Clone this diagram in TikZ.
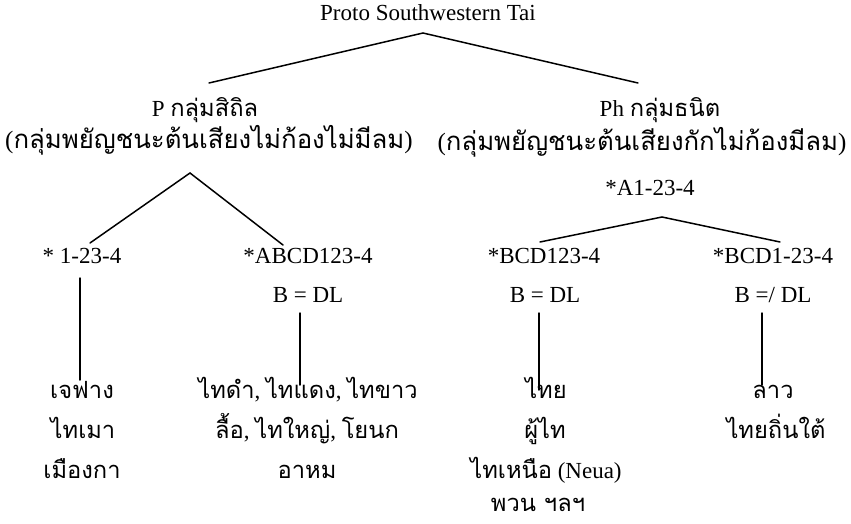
\documentclass[tikz,border=0pt]{standalone}
\usepackage{fontspec}
\setmainfont{Liberation Serif}
\newfontfamily\thaif[Script=Thai,Scale=1.03]{Loma}
\begin{document}
\begin{tikzpicture}[x=1pt,y=-1pt,
  lbl/.style={inner sep=0pt, anchor=base, font=\fontsize{23}{27}\selectfont},
  wide/.style={lbl, font=\fontsize{25}{29}\selectfont},
  branch/.style={line width=1.5pt, line cap=round}]
\useasboundingbox (0,0) rectangle (851,524);
% texts
\node[lbl] (root) at (428,21) {Proto Southwestern Tai};
\node[lbl] (pA) at (205,117) {P {\thaif กลุ่มสิถิล}};
\node[wide] (pB) at (209,149) {({\thaif กลุ่มพยัญชนะต้นเสียงไม่ก้องไม่มีลม})};
\node[lbl] (phA) at (660,117) {Ph {\thaif กลุ่มธนิต}};
\node[wide] (phB) at (642,150) {({\thaif กลุ่มพยัญชนะต้นเสียงกักไม่ก้องมีลม})};
\node[lbl] (phC) at (650,195) {*A1-23-4};
\node[lbl] (s1) at (82,263) {* 1-23-4};
\node[lbl] (s2) at (308,263) {*ABCD123-4};
\node[lbl] (s2b) at (308,302) {B = DL};
\node[lbl] (s3) at (544,263) {*BCD123-4};
\node[lbl] (s3b) at (545,302) {B = DL};
\node[lbl] (s4) at (773,263) {*BCD1-23-4};
\node[lbl] (s4b) at (773,302) {B =/ DL};
% leaves
\node[lbl] (l1a) at (82,398) {\thaif เจฟาง};
\node[lbl] (l1b) at (83,438) {\thaif ไทเมา};
\node[lbl] (l1c) at (82,478) {\thaif เมืองกา};
\node[lbl] (l2a) at (308,398) {{\thaif ไทดำ}, {\thaif ไทแดง}, {\thaif ไทขาว}};
\node[lbl] (l2b) at (307,438) {{\thaif ลื้อ}, {\thaif ไทใหญ่}, {\thaif โยนก}};
\node[lbl] (l2c) at (307,478) {\thaif อาหม};
\node[lbl] (l3a) at (546,398) {\thaif ไทย};
\node[lbl] (l3b) at (545,438) {\thaif ผู้ไท};
\node[lbl] (l3c) at (546,478) {{\thaif ไทเหนือ} (Neua)};
\node[lbl] (l3d) at (538,511) {\thaif พวน ฯลฯ};
\node[lbl] (l4a) at (773,398) {\thaif ลาว};
\node[lbl] (l4b) at (776,438) {\thaif ไทยถิ่นใต้};
% connector points
\coordinate (rootApex) at (423,33);
\coordinate (pTop) at (209,83);
\coordinate (phTop) at (638,83);
\coordinate (pApex) at (190,173);
\coordinate (s1Top) at (90,243);
\coordinate (s2Top) at (283,245);
\coordinate (phApex) at (662,217);
\coordinate (s3Top) at (540,242);
\coordinate (s4Top) at (780,242);
\coordinate (v1a) at (80,278);   \coordinate (v1b) at (80,380);
\coordinate (v2a) at (300,313);  \coordinate (v2b) at (300,385);
\coordinate (v3a) at (539,313);  \coordinate (v3b) at (539,390);
\coordinate (v4a) at (762,313);  \coordinate (v4b) at (762,385);
% connectors
\draw[branch] (pTop) -- (rootApex) -- (phTop);
\draw[branch] (s1Top) -- (pApex) -- (s2Top);
\draw[branch] (s3Top) -- (phApex) -- (s4Top);
\draw[branch] (v1a) -- (v1b);
\draw[branch] (v2a) -- (v2b);
\draw[branch] (v3a) -- (v3b);
\draw[branch] (v4a) -- (v4b);
\end{tikzpicture}
\end{document}
